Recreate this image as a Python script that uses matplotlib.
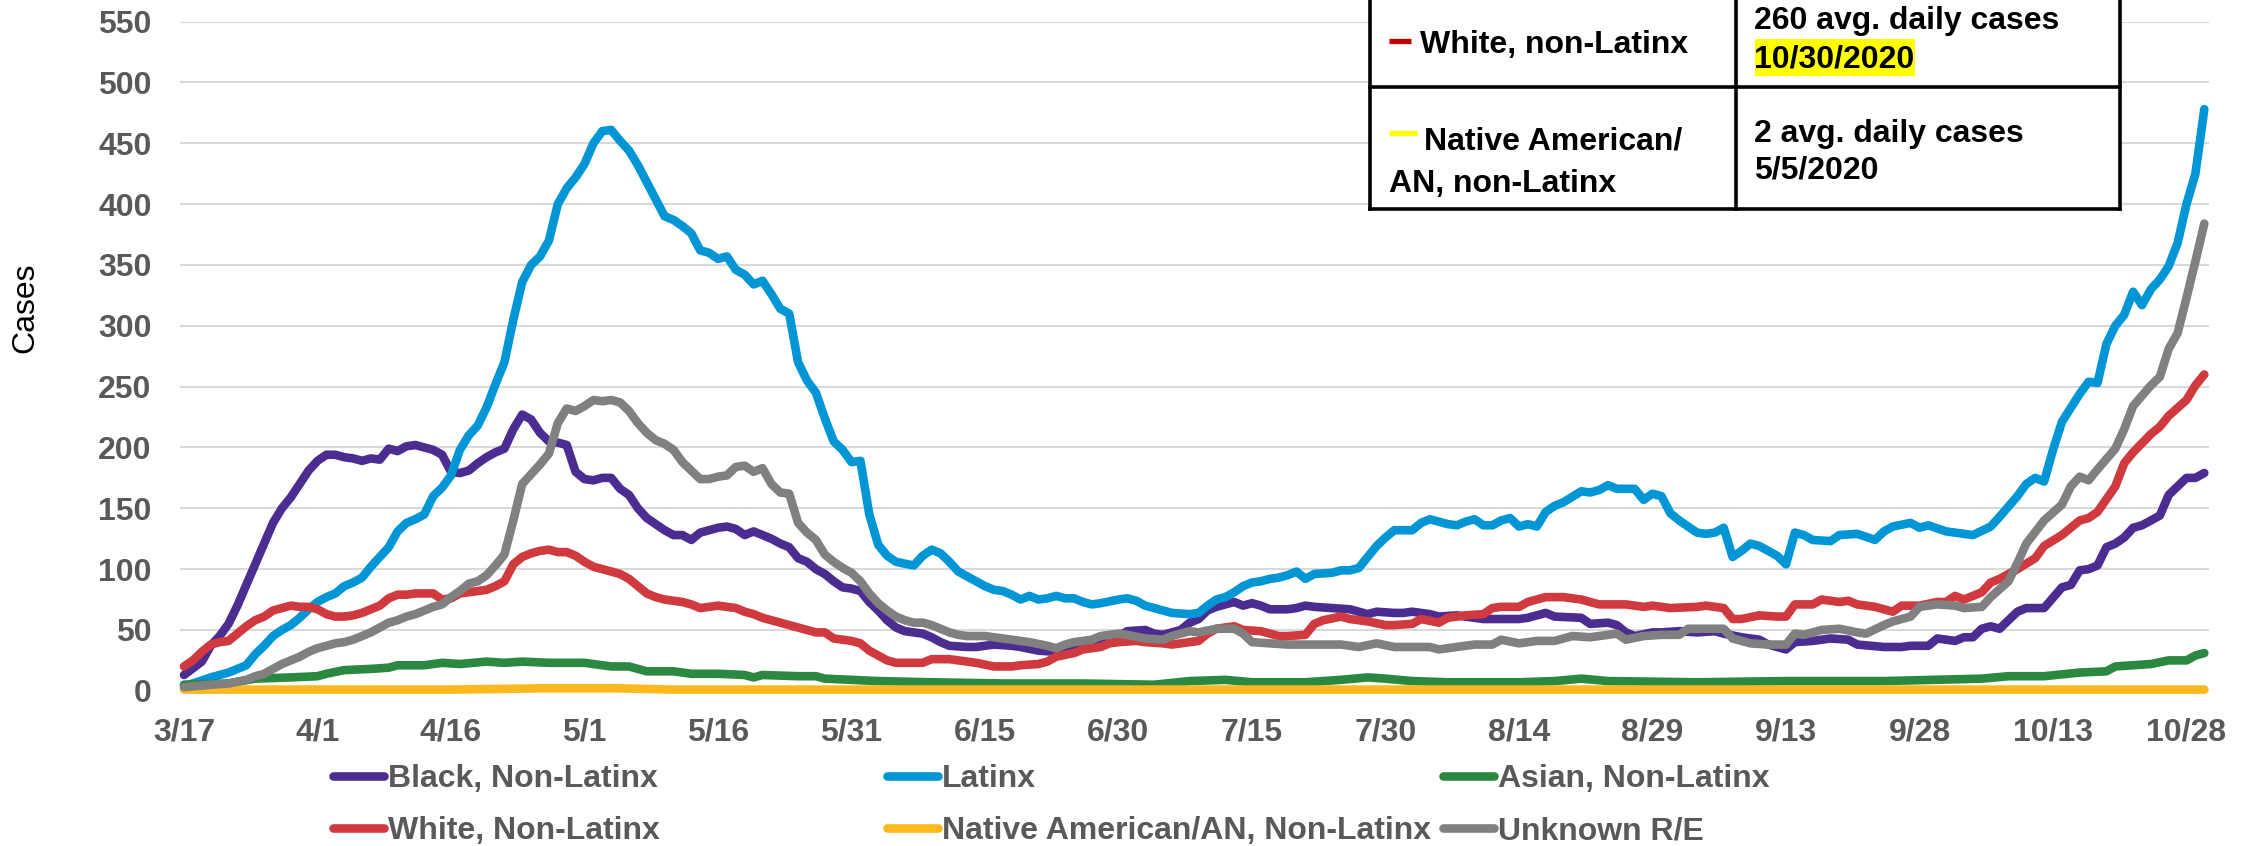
import matplotlib
matplotlib.use('Agg')
import matplotlib.pyplot as plt
from matplotlib.lines import Line2D
from matplotlib.patches import Rectangle
from matplotlib.font_manager import FontProperties

plt.rcParams['font.family'] = ['Liberation Sans', 'DejaVu Sans']

# ---------------- data ----------------
# x values are days since 3/17/2020
x_tick_days = [0, 15, 30, 45, 60, 75, 90, 105, 120, 135, 150, 165, 180, 195, 210, 225]
x_tick_labels = ['3/17', '4/1', '4/16', '5/1', '5/16', '5/31', '6/15', '6/30',
                 '7/15', '7/30', '8/14', '8/29', '9/13', '9/28', '10/13', '10/28']
y_ticks = [0, 50, 100, 150, 200, 250, 300, 350, 400, 450, 500, 550]

black_days = [0, 2, 3, 4, 5, 6, 7, 8, 9, 10, 11, 12, 13, 14, 15, 16, 17, 18, 19, 20, 21, 22, 23, 24, 25, 26, 27, 28, 29, 30,
              31, 32, 33, 34, 35, 36, 37, 38, 39, 40, 41, 42, 43, 44, 45, 46, 47, 48, 49, 50, 51, 52, 53, 54, 55, 56, 57,
              58, 59, 60, 61, 62, 63, 64, 65, 66, 67, 68, 69, 70, 71, 72, 73, 74, 75, 76, 77, 78, 79, 80, 81, 83, 84, 85,
              86, 88, 89, 91, 93, 94, 96, 98, 99, 101, 103, 105, 106, 108, 109, 110, 112, 113, 114, 115, 116, 118, 119,
              120, 121, 122, 124, 125, 126, 127, 129, 131, 132, 133, 134, 136, 137, 138, 140, 141, 143, 145, 146, 148,
              150, 151, 153, 154, 157, 158, 160, 161, 162, 163, 165, 166, 168, 170, 172, 173, 175, 177, 178, 180, 181,
              183, 185, 187, 188, 191, 193, 194, 196, 197, 199, 200, 201, 202, 203, 204, 206, 207, 209, 211, 212, 213,
              214, 215, 216, 217, 218, 219, 220, 221, 222, 223, 225, 226, 227]
black_vals = [13, 24, 37, 45, 55, 70, 87, 104, 121, 138, 150, 159, 170, 181, 189, 194, 194, 192, 191, 189, 191, 190, 199,
              197, 201, 202, 200, 198, 194, 180, 179, 181, 187, 192, 196, 199, 215, 227, 223, 212, 205, 204, 202, 180, 174,
              173, 175, 175, 166, 161, 150, 142, 137, 132, 128, 128, 124, 130, 132, 134, 135, 133, 128, 131, 128, 125, 121,
              118, 109, 106, 100, 96, 90, 85, 84, 82, 73, 66, 58, 52, 49, 47, 44, 40, 37, 36, 36, 38, 37, 36, 33, 32, 35,
              38, 41, 45, 49, 50, 47, 46, 50, 56, 59, 66, 69, 73, 70, 72, 70, 67, 67, 68, 70, 69, 68, 67, 65, 63, 65, 64,
              64, 65, 63, 61, 62, 60, 59, 59, 59, 60, 64, 61, 60, 55, 56, 54, 48, 45, 48, 48, 49, 48, 49, 47, 44, 42, 38,
              34, 40, 41, 43, 42, 38, 36, 36, 37, 37, 43, 41, 44, 44, 51, 53, 51, 65, 68, 68, 85, 87, 99, 100, 103, 118,
              121, 126, 134, 136, 140, 144, 161, 175, 175, 179]

latinx_days = [0, 1, 3, 5, 7, 8, 9, 10, 11, 12, 13, 14, 15, 16, 17, 18, 19, 20, 21, 22, 23, 24, 25, 26, 27, 28, 29, 30,
               31, 32, 33, 34, 35, 36, 37, 38, 39, 40, 41, 42, 43, 44, 45, 46, 47, 48, 49, 50, 51, 52, 53, 54, 55, 56, 57,
               58, 59, 60, 61, 62, 63, 64, 65, 66, 67, 68, 69, 70, 71, 72, 73, 74, 75, 76, 77, 78, 79, 80, 82, 83, 84, 85,
               86, 87, 88, 89, 90, 91, 92, 93, 94, 95, 96, 97, 98, 99, 100, 101, 102, 103, 105, 106, 107, 108, 110, 111,
               113, 114, 115, 116, 117, 118, 119, 120, 121, 122, 123, 124, 125, 126, 127, 129, 130, 131, 132, 133, 134,
               135, 136, 137, 138, 139, 140, 141, 142, 143, 144, 145, 146, 147, 148, 149, 150, 151, 152, 153, 154, 155,
               157, 158, 159, 160, 161, 163, 164, 165, 166, 167, 168, 169, 170, 171, 172, 173, 174, 175, 176, 177, 178,
               179, 180, 181, 182, 183, 185, 186, 188, 190, 191, 192, 194, 195, 196, 198, 199, 201, 203, 204, 206, 207,
               208, 209, 210, 211, 213, 214, 215, 216, 217, 218, 219, 220, 221, 222, 223, 224, 225, 226, 227]
latinx_vals = [4, 6, 11, 15, 21, 30, 37, 45, 50, 54, 60, 67, 73, 77, 80, 86, 89, 93, 102, 110, 118, 131, 138, 141, 145,
               160, 167, 177, 198, 210, 218, 233, 252, 270, 305, 336, 350, 357, 370, 400, 413, 422, 433, 450, 460, 461,
               452, 444, 432, 418, 404, 390, 387, 382, 376, 362, 360, 355, 357, 346, 342, 334, 337, 326, 314, 310, 270,
               255, 245, 224, 205, 198, 188, 189, 145, 120, 111, 106, 103, 111, 116, 113, 106, 98, 94, 90, 86, 83, 82, 79,
               75, 78, 75, 76, 78, 76, 76, 73, 71, 72, 75, 76, 74, 70, 66, 64, 63, 64, 70, 75, 77, 81, 86, 89, 90, 92, 93,
               95, 98, 92, 96, 97, 99, 99, 101, 110, 119, 126, 132, 132, 132, 138, 141, 139, 137, 136, 139, 141, 136, 136,
               140, 142, 135, 137, 135, 147, 152, 155, 164, 163, 165, 169, 166, 166, 157, 162, 160, 146, 140, 135, 130,
               129, 130, 134, 110, 115, 121, 119, 115, 111, 104, 130, 128, 124, 123, 128, 129, 124, 131, 135, 138, 134,
               136, 131, 130, 128, 135, 143, 160, 170, 175, 172, 198, 221, 244, 254, 253, 285, 300, 309, 328, 317, 330,
               338, 349, 368, 400, 425, 478]

asian_days = [0, 5, 8, 12, 15, 16, 18, 21, 23, 24, 27, 29, 31, 34, 36, 38, 41, 45, 48, 50, 52, 55, 57, 60, 63, 64, 65,
              69, 71, 72, 75, 78, 84, 92, 101, 109, 113, 117, 120, 124, 126, 130, 133, 135, 138, 142, 146, 150, 154, 157,
              160, 170, 180, 191, 202, 205, 209, 213, 216, 217, 221, 223, 225, 226, 227]
asian_vals = [5, 6, 10, 11, 12, 14, 17, 18, 19, 21, 21, 23, 22, 24, 23, 24, 23, 23, 20, 20, 16, 16, 14, 14, 13, 11, 13,
              12, 12, 10, 9, 8, 7, 6, 6, 5, 8, 9, 7, 7, 7, 9, 11, 10, 8, 7, 7, 7, 8, 10, 8, 7, 8, 8, 10, 12, 12, 15, 16,
              20, 22, 25, 25, 29, 31]

white_days = [0, 1, 2, 3, 4, 5, 6, 7, 8, 9, 10, 11, 12, 13, 14, 15, 16, 17, 18, 19, 20, 21, 22, 23, 24, 25, 26, 27, 28,
              29, 30, 31, 32, 33, 34, 35, 36, 37, 38, 39, 40, 41, 42, 43, 44, 45, 46, 47, 48, 49, 50, 51, 52, 53, 54, 55,
              56, 57, 58, 59, 60, 62, 63, 64, 65, 66, 67, 68, 69, 70, 71, 72, 73, 74, 75, 76, 77, 78, 79, 80, 83, 84, 86,
              88, 89, 91, 93, 94, 96, 97, 98, 100, 101, 103, 104, 105, 107, 108, 110, 111, 113, 114, 115, 116, 118, 119,
              121, 123, 124, 126, 127, 128, 130, 131, 133, 135, 136, 138, 139, 141, 142, 144, 146, 147, 148, 150, 151,
              153, 155, 157, 159, 162, 164, 165, 167, 170, 171, 173, 174, 175, 177, 179, 180, 181, 183, 184, 186, 187,
              188, 190, 192, 193, 195, 197, 198, 199, 200, 201, 202, 203, 204, 206, 208, 209, 211, 213, 214, 215, 217,
              218, 219, 221, 222, 223, 225, 226, 227]
white_vals = [20, 25, 32, 38, 40, 41, 47, 53, 58, 61, 66, 68, 70, 69, 69, 67, 63, 61, 61, 62, 64, 67, 70, 76, 79, 79, 80,
              80, 80, 75, 76, 80, 81, 82, 83, 86, 90, 104, 110, 113, 115, 116, 114, 114, 111, 106, 102, 100, 98, 96, 92,
              86, 80, 77, 75, 74, 73, 71, 68, 69, 70, 68, 65, 63, 60, 58, 56, 54, 52, 50, 48, 48, 43, 42, 41, 39, 33, 29,
              25, 23, 23, 26, 26, 24, 23, 20, 20, 21, 22, 24, 28, 31, 34, 36, 39, 40, 41, 40, 39, 38, 40, 41, 47, 51, 53,
              50, 49, 45, 45, 46, 55, 58, 61, 59, 57, 54, 54, 55, 59, 56, 60, 62, 63, 68, 69, 69, 73, 77, 77, 75, 71, 71,
              69, 70, 68, 69, 70, 68, 59, 59, 62, 61, 61, 71, 71, 75, 73, 74, 71, 69, 65, 70, 70, 73, 73, 78, 75, 78, 81,
              89, 92, 100, 109, 119, 128, 140, 142, 147, 168, 187, 196, 211, 217, 226, 239, 251, 260]

native_days = [0, 10, 20, 30, 40, 45, 49, 55, 70, 90, 120, 150, 180, 210, 227]
native_vals = [1, 1, 1, 1, 2, 2, 2, 1, 1, 1, 1, 1, 1, 1, 1]

unknown_days = [0, 3, 5, 7, 8, 9, 10, 11, 12, 13, 14, 15, 16, 17, 18, 19, 20, 21, 22, 23, 24, 25, 26, 27, 28, 29, 30,
                31, 32, 33, 34, 35, 36, 37, 38, 39, 40, 41, 42, 43, 44, 45, 46, 47, 48, 49, 50, 51, 52, 53, 54, 55, 56,
                57, 58, 59, 60, 61, 62, 63, 64, 65, 66, 67, 68, 69, 70, 71, 72, 73, 74, 75, 76, 77, 78, 79, 80, 81, 82,
                83, 84, 85, 86, 87, 88, 90, 91, 93, 94, 95, 97, 98, 99, 100, 102, 103, 105, 106, 108, 110, 111, 113, 114,
                116, 118, 119, 120, 122, 124, 126, 128, 130, 132, 134, 136, 138, 140, 141, 143, 145, 147, 148, 150, 152,
                154, 156, 158, 161, 162, 164, 166, 168, 169, 171, 173, 174, 176, 178, 180, 181, 182, 184, 186, 188, 189,
                191, 192, 194, 195, 197, 199, 200, 202, 203, 205, 206, 207, 209, 211, 212, 213, 214, 215, 217, 218, 219,
                221, 222, 223, 224, 225, 226, 227]
unknown_vals = [3, 5, 6, 9, 12, 14, 18, 22, 25, 28, 32, 35, 37, 39, 40, 42, 45, 48, 52, 56, 58, 61, 63, 66, 69, 71, 77,
                82, 88, 90, 95, 103, 112, 140, 170, 178, 186, 195, 220, 232, 230, 234, 239, 238, 239, 237, 230, 220, 212,
                206, 203, 198, 188, 181, 174, 174, 176, 177, 184, 185, 180, 183, 170, 163, 162, 138, 130, 124, 112, 106,
                101, 97, 90, 80, 72, 66, 61, 58, 56, 56, 54, 51, 48, 46, 45, 45, 44, 42, 41, 40, 37, 35, 38, 40, 42, 45,
                47, 46, 43, 42, 45, 49, 48, 51, 51, 47, 40, 39, 38, 38, 38, 38, 36, 39, 36, 36, 36, 34, 36, 38, 38, 42,
                39, 41, 41, 45, 44, 47, 42, 45, 46, 46, 51, 51, 51, 43, 39, 38, 38, 47, 46, 50, 51, 48, 47, 54, 57, 61,
                69, 71, 70, 68, 69, 77, 90, 105, 121, 140, 153, 168, 176, 173, 182, 199, 215, 234, 251, 258, 281, 294,
                323, 353, 384]

series_names = ['Black, Non-Latinx', 'Latinx', 'Asian, Non-Latinx',
                'White, Non-Latinx', 'Native American/AN, Non-Latinx', 'Unknown R/E']
series_days = [black_days, latinx_days, asian_days, white_days, native_days, unknown_days]
series_vals = [black_vals, latinx_vals, asian_vals, white_vals, native_vals, unknown_vals]
series_colors = ['#4B2C91', '#0096D6', '#2B8840', '#D0393E', '#FDB81E', '#808080']

table_rows = [('White, non-Latinx', '260 avg. daily cases', '10/30/2020'),
              ('Native American/\nAN, non-Latinx', '2 avg. daily cases', '5/5/2020')]

# ---------------- layout ----------------
W, H = 2259, 846
fig = plt.figure(figsize=(W / 100, H / 100), dpi=100)


def fx(px):
    return px / W


def fy(py):
    return 1 - py / H


ax_l, ax_r, ax_t, ax_b = 180, 2209, 21.6, 690.8
ax = fig.add_axes([fx(ax_l), fy(ax_b), fx(ax_r - ax_l), (ax_b - ax_t) / H])
day0_px, px_per_day = 184.0, 8.9
ax.set_xlim((ax_l - day0_px) / px_per_day, (ax_r - day0_px) / px_per_day)
ax.set_ylim(0, 550)

GRAY_TXT = '#595959'
bold = FontProperties(family=['Liberation Sans', 'DejaVu Sans'], weight='bold', size=23)

lines = []
for d, v, c, n in zip(series_days, series_vals, series_colors, series_names):
    ln, = ax.plot(d, v, color=c, lw=6.2, solid_capstyle='round', solid_joinstyle='round', label=n, clip_on=False)
    lines.append(ln)

ax.set_yticks(y_ticks)
ax.set_xticks(x_tick_days)
ax.set_xticklabels(x_tick_labels)
ax.tick_params(axis='both', length=0, labelcolor=GRAY_TXT)
ax.tick_params(axis='x', pad=19)
ax.tick_params(axis='y', pad=20.5)
for lab in ax.get_xticklabels() + ax.get_yticklabels():
    lab.set_fontproperties(bold)
ax.grid(axis='y', color='#D9D9D9', lw=1.5)
ax.set_axisbelow(True)
for s in ax.spines.values():
    s.set_visible(False)

fig.text(fx(25), fy(308), 'Cases', rotation=90, ha='center', va='center', fontsize=23, color='black',
         family=['Liberation Sans', 'DejaVu Sans'])

# ---------------- legend (Excel style fixed columns) ----------------
leg_cols = [333, 887, 1443]
leg_rows = [779, 831]
for i, (ln, name) in enumerate(zip(lines, series_names)):
    r, c = divmod(i, 3)
    lg = fig.legend(handles=[ln], labels=[name], loc='center left',
                    bbox_to_anchor=(fx(leg_cols[c]), fy(leg_rows[r])), frameon=False,
                    borderpad=0, borderaxespad=0, handlelength=1.6, handletextpad=0.12,
                    prop=bold, labelcolor=GRAY_TXT)

# ---------------- table (top right) ----------------
tl, tm, tr = 1370, 1736, 2120
trow, tbot = 87.3, 209
fig.add_artist(Rectangle((fx(tl), fy(tbot)), fx(tr - tl), (tbot + 5) / H, transform=fig.transFigure,
                         facecolor='white', edgecolor='none', zorder=5))
tkw = dict(transform=fig.transFigure, color='black', lw=2.6, zorder=6, solid_capstyle='projecting')
for xv in (tl, tm, tr):
    fig.add_artist(Line2D([fx(xv), fx(xv)], [fy(-20), fy(tbot)], **tkw))
for yv in (trow, tbot):
    fig.add_artist(Line2D([fx(tl), fx(tr)], [fy(yv), fy(yv)], **tkw))

# colored dashes
fig.add_artist(Line2D([fx(1389), fx(1411)], [fy(40.7), fy(40.7)], transform=fig.transFigure,
                      color='#C00000', lw=3.8, zorder=7, solid_capstyle='butt'))
fig.add_artist(Line2D([fx(1389), fx(1417)], [fy(133.3), fy(133.3)], transform=fig.transFigure,
                      color='#FFFF00', lw=3.8, zorder=7, solid_capstyle='butt'))
# highlight behind date
fig.add_artist(Rectangle((fx(1755), fy(76)), fx(160), 36.5 / H, transform=fig.transFigure,
                         facecolor='#FFFF00', edgecolor='none', zorder=6))

tk = dict(transform=fig.transFigure, ha='left', va='baseline', color='black', fontproperties=bold, zorder=8)
fig.text(fx(1420.5), fy(53.3), table_rows[0][0], **tk)
fig.text(fx(1754.5), fy(29.5), table_rows[0][1], **tk)
fig.text(fx(1754.5), fy(67), table_rows[0][2], **tk)
nat1, nat2 = table_rows[1][0].split('\n')
fig.text(fx(1423.5), fy(150), nat1, **tk)
fig.text(fx(1389), fy(192), nat2, **tk)
fig.text(fx(1754.5), fy(142), table_rows[1][1], **tk)
fig.text(fx(1754.5), fy(178.5), table_rows[1][2], **tk)

fig.savefig('out.png', dpi=100)
